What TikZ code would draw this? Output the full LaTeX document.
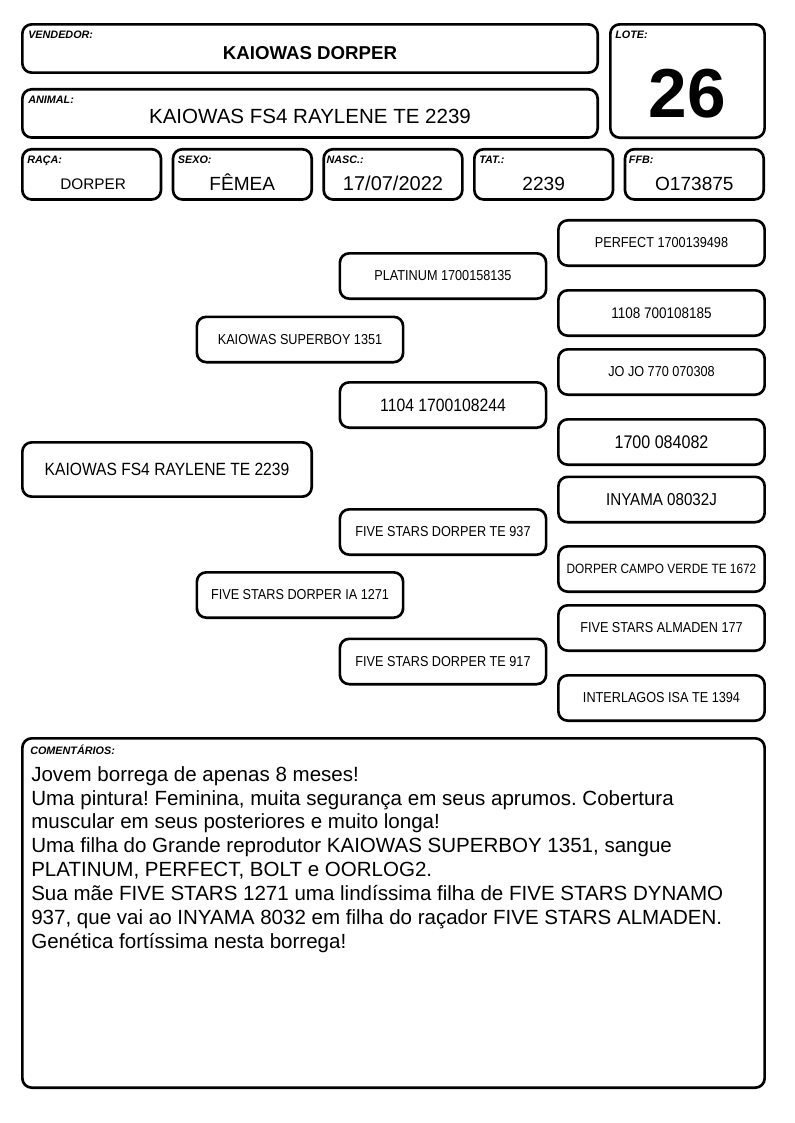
\documentclass[tikz,border=0pt]{standalone}
\usepackage{fontspec}
\setmainfont{Liberation Sans}
\newfontfamily\narrowfont{Liberation Sans}[FakeStretch=0.88]
\usetikzlibrary{positioning}
\frenchspacing

\begin{document}
\begin{tikzpicture}[
  x=0.75pt, y=-0.75pt,
  card/.style={draw, line width=2pt, rounded corners=7pt, inner sep=0pt},
  head/.style={card, minimum width=431.5pt, minimum height=36.2pt},
  info/.style={card, minimum width=104pt, minimum height=37.7pt},
  ped/.style={card, minimum width=154.7pt, minimum height=34pt,
              font=\narrowfont\fontsize{10.8}{12}\selectfont},
  lbl/.style={inner sep=0pt, anchor=north west,
              font=\bfseries\itshape\fontsize{8.1}{9}\selectfont},
  val/.style={inner sep=0pt, anchor=base, font=\fontsize{14.3}{16}\selectfont},
]
\useasboundingbox (0,0) rectangle (794,1123);

% cabecalho
\node[head] (vend) at (310,48.5) {};
\node[head, below=10.5pt of vend] (anim) {};
\node[card, minimum width=115.7pt, minimum height=85pt, anchor=north west]
  (lote) at ([xshift=7.5pt]vend.north east) {};
\node[info, below=6.75pt of anim.south west, anchor=north west] (raca) {};
\node[info, right=7pt of raca] (sexo) {};
\node[info, right=7pt of sexo] (nasc) {};
\node[info, right=7pt of nasc] (tat) {};
\node[info, right=7pt of tat] (ffb) {};

\node[lbl] (vendlbl) at ([shift={(7,8)}]vend.north west) {VENDEDOR:};
\node[lbl] (animlbl) at ([shift={(7,8)}]anim.north west) {ANIMAL:};
\node[lbl] (lotelbl) at ([shift={(6,8)}]lote.north west) {LOTE:};
\node[lbl] (racalbl) at ([shift={(6,8)}]raca.north west) {RAÇA:};
\node[lbl] (sexolbl) at ([shift={(6,8)}]sexo.north west) {SEXO:};
\node[lbl] (nasclbl) at ([shift={(4,8)}]nasc.north west) {NASC.:};
\node[lbl] (tatlbl) at ([shift={(6,8)}]tat.north west) {TAT.:};
\node[lbl] (ffblbl) at ([shift={(5,8)}]ffb.north west) {FFB:};

\node[val, font=\bfseries\fontsize{14}{16}\selectfont] (vendval) at ([shift={(0,11.5)}]vend.center) {KAIOWAS DORPER};
\node[val, font=\fontsize{15.4}{17}\selectfont] (animval) at ([shift={(0,10)}]anim.center) {KAIOWAS FS4 RAYLENE TE 2239};
\node[val, font=\bfseries\fontsize{52}{56}\selectfont] (loteval) at ([shift={(0,36)}]lote.center) {26};
\node[val, font=\fontsize{11.5}{13}\selectfont] (racaval) at ([shift={(1.5,15)}]raca.center) {DORPER};
\node[val] (sexoval) at ([shift={(0,16)}]sexo.center) {FÊMEA};
\node[val, font=\fontsize{15}{17}\selectfont] (nascval) at ([shift={(0,16)}]nasc.center) {17/07/2022};
\node[val] (tatval) at ([shift={(0,16)}]tat.center) {2239};
\node[val] (ffbval) at ([shift={(0,16)}]ffb.center) {O173875};

% genealogia
\node[ped, minimum width=217pt, minimum height=40.7pt,
      font=\narrowfont\fontsize{13.3}{15}\selectfont] (g1) at (167,469.5) {KAIOWAS FS4 RAYLENE TE 2239};

\node[ped] (pai) at (300,339.5) {KAIOWAS SUPERBOY 1351};
\node[ped] (mae) at (300,595) {FIVE STARS DORPER IA 1271};

\node[ped] (avo1) at (443,276) {PLATINUM 1700158135};
\node[ped, font=\narrowfont\fontsize{13.4}{15}\selectfont] (avo2) at (443,405) {1104 1700108244};
\node[ped] (avo3) at (443,532) {FIVE STARS DORPER TE 937};
\node[ped] (avo4) at (443,661.5) {FIVE STARS DORPER TE 917};

\node[ped] (bis1) at (661.5,243) {PERFECT 1700139498};
\node[ped, font=\narrowfont\fontsize{11.5}{13}\selectfont] (bis2) at (661.5,313) {1108 700108185};
\node[ped] (bis3) at (661.5,372) {JO JO 770 070308};
\node[ped, font=\narrowfont\fontsize{13.7}{15}\selectfont] (bis4) at (661.5,442) {1700 084082};
\node[ped, font=\narrowfont\fontsize{12.9}{15}\selectfont] (bis5) at (661.5,499.5) {INYAMA 08032J};
\node[ped, font=\narrowfont\fontsize{10.1}{12}\selectfont] (bis6) at (661.5,569) {DORPER CAMPO VERDE TE 1672};
\node[ped] (bis7) at (661.5,628) {FIVE STARS ALMADEN 177};
\node[ped] (bis8) at (661.5,698) {INTERLAGOS ISA TE 1394};

% comentarios
\node[card, minimum width=556.7pt, minimum height=262pt] (coment) at (393.5,913) {};
\node[lbl] (comentlbl) at ([shift={(9,8)}]coment.north west) {COMENTÁRIOS:};
\node[inner sep=0pt, anchor=north west, align=left,
      font=\fontsize{15.4}{17.9}\selectfont] (comenttxt) at ([shift={(10,29)}]coment.north west)
  {Jovem borrega de apenas 8 meses!\\
   Uma pintura! Feminina, muita segurança em seus aprumos. Cobertura\\
   muscular em seus posteriores e muito longa!\\
   Uma filha do Grande reprodutor KAIOWAS SUPERBOY 1351, sangue\\
   PLATINUM, PERFECT, BOLT e OORLOG2.\\
   Sua mãe FIVE STARS 1271 uma lindíssima filha de FIVE STARS DYNAMO\\
   937, que vai ao INYAMA 8032 em filha do raçador FIVE STARS ALMADEN.\\
   Genética fortíssima nesta borrega!};
\end{tikzpicture}
\end{document}
